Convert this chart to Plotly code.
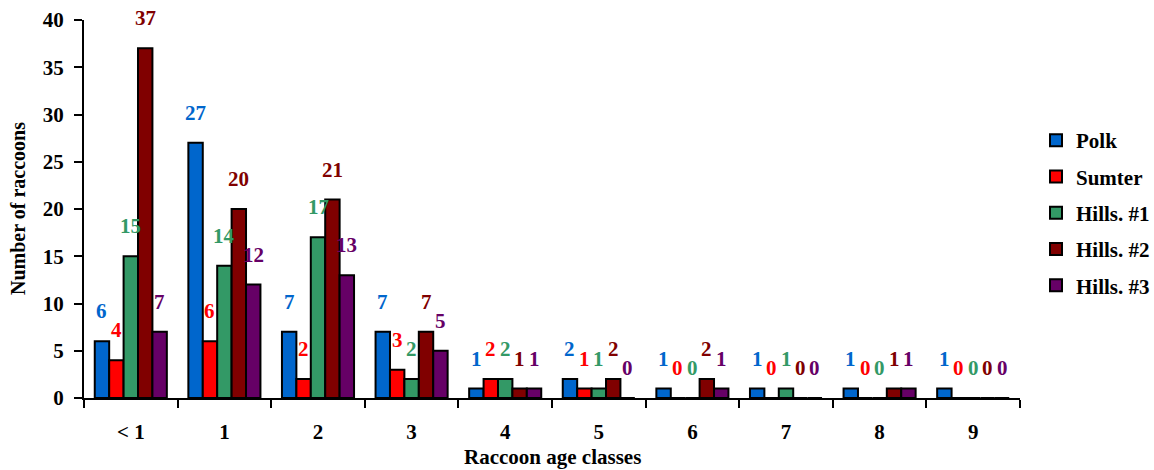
import plotly.graph_objects as go

categories = ["< 1", "1", "2", "3", "4", "5", "6", "7", "8", "9"]
series_names = ["Polk", "Sumter", "Hills. #1", "Hills. #2", "Hills. #3"]
polk = [6, 27, 7, 7, 1, 2, 1, 1, 1, 1]
sumter = [4, 6, 2, 3, 2, 1, 0, 0, 0, 0]
hills1 = [15, 14, 17, 2, 2, 1, 0, 1, 0, 0]
hills2 = [37, 20, 21, 7, 1, 2, 2, 0, 1, 0]
hills3 = [7, 12, 13, 5, 1, 0, 1, 0, 1, 0]
colors = ["#0066CC", "#FF0000", "#339966", "#800000", "#660066"]
y_ticks = [0, 5, 10, 15, 20, 25, 30, 35, 40]

series = [polk, sumter, hills1, hills2, hills3]
FONT = "Liberation Serif, Times New Roman, serif"
BARGAP = 0.23

fig = go.Figure()
for k, (name, vals, col) in enumerate(zip(series_names, series, colors)):
    fig.add_trace(go.Bar(
        x=categories, y=vals, name=name, legendgroup=name,
        marker=dict(color=col, line=dict(color="black", width=2)),
    ))

n = len(series)
w = (1 - BARGAP) / n
annotations = []
for k, (vals, col) in enumerate(zip(series, colors)):
    for i, v in enumerate(vals):
        xpos = i - 0.5 + BARGAP / 2 + (k + 0.5) * w
        annotations.append(dict(
            x=xpos, y=v, xref="x", yref="y", text=str(v), showarrow=False,
            yshift=30, font=dict(family=FONT, size=21, color=col, weight="bold"),
        ))

annotations.append(dict(
    x=0.5, y=0, xref="paper", yref="paper", text="Raccoon age classes", showarrow=False,
    xanchor="center", yanchor="middle", yshift=-59,
    font=dict(family=FONT, size=21, color="black", weight="bold"),
))
annotations.append(dict(
    x=0, y=0.5, xref="paper", yref="paper", text="Number of raccoons", showarrow=False,
    xanchor="center", yanchor="middle", xshift=-66, textangle=-90,
    font=dict(family=FONT, size=20, color="black", weight="bold"),
))

fig.update_layout(
    width=1154, height=470,
    margin=dict(l=84, r=134, t=20, b=72),
    paper_bgcolor="white", plot_bgcolor="white",
    barmode="group", bargap=BARGAP, bargroupgap=0,
    annotations=annotations,
    font=dict(family=FONT, color="black"),
    legend=dict(
        xref="container", yref="container", x=1036 / 1154, y=1 - 120 / 470,
        xanchor="left", yanchor="top", tracegroupgap=6,
        font=dict(family=FONT, size=21, color="black", weight="bold"),
        bgcolor="rgba(0,0,0,0)",
    ),
    showlegend=True,
)
fig.update_xaxes(
    type="category", tickson="boundaries", showline=True, linewidth=2, linecolor="black",
    ticks="outside", ticklen=8, tickwidth=2, tickcolor="black", showgrid=False,
    tickfont=dict(family=FONT, size=21, color="black", weight="bold"), ticklabelstandoff=14,
    automargin=False,
)
fig.update_yaxes(
    range=[0, 40], tickvals=y_ticks, showline=True, linewidth=2, linecolor="black",
    ticks="outside", ticklen=8, tickwidth=2, tickcolor="black", showgrid=False, zeroline=False,
    tickfont=dict(family=FONT, size=21, color="black", weight="bold"), ticklabelstandoff=6,
    automargin=False,
)

fig.write_html("out.html")
